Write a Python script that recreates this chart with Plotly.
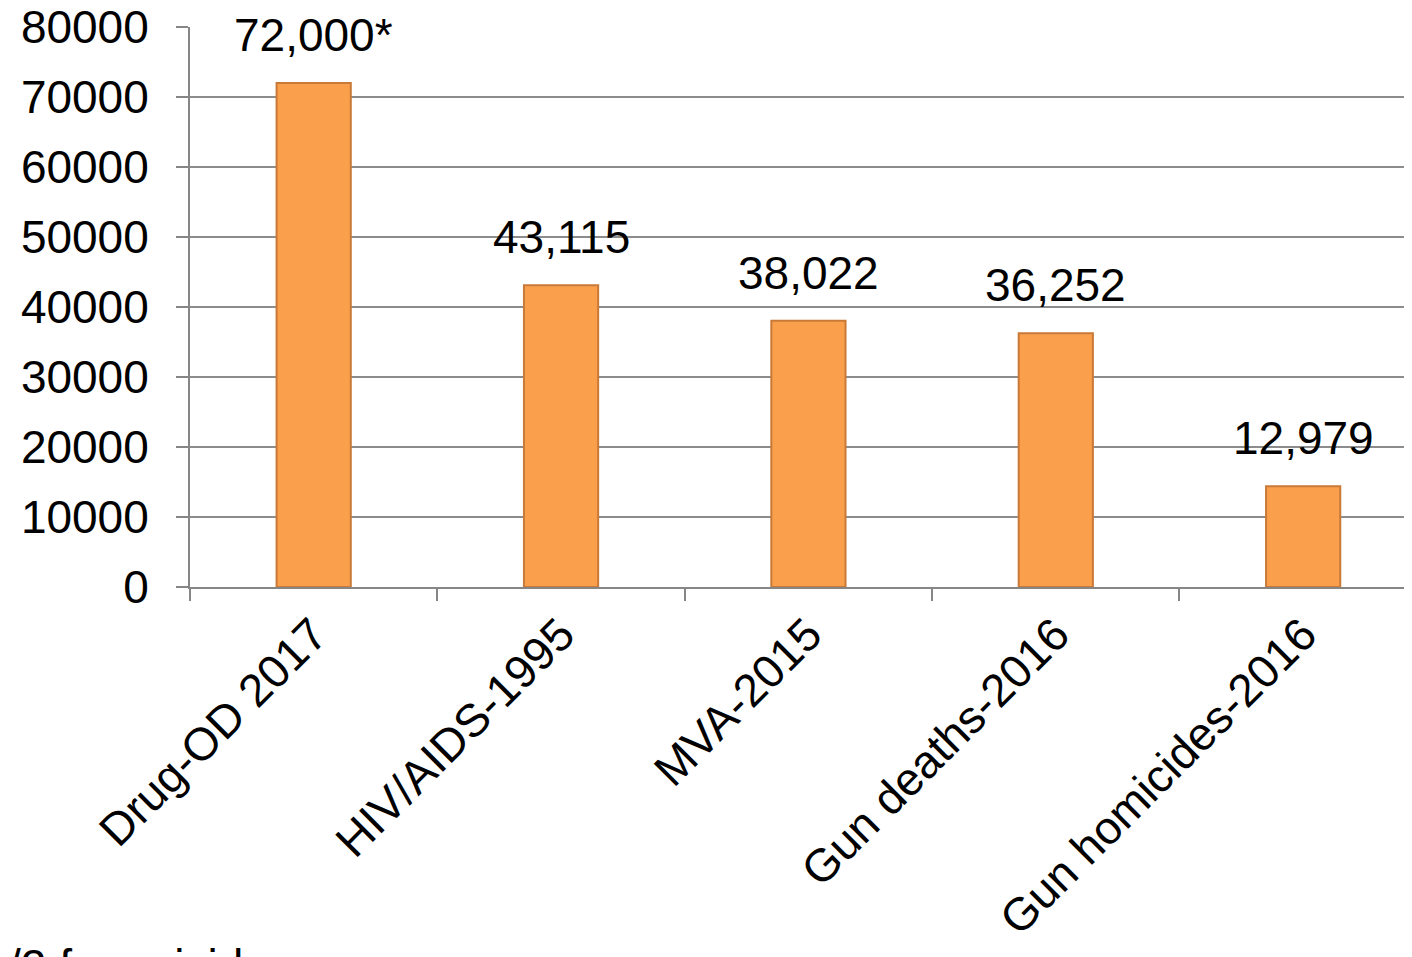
import plotly.graph_objects as go

categories = ["Drug-OD 2017", "HIV/AIDS-1995", "MVA-2015", "Gun deaths-2016", "Gun homicides-2016"]
bar_values = [72000, 43115, 38022, 36252, 14400]
bar_labels = ["72,000*", "43,115", "38,022", "36,252", "12,979"]
y_ticks = [0, 10000, 20000, 30000, 40000, 50000, 60000, 70000, 80000]
footnote = "/2 for suicides"

OFF = 8  # page body margin
W, H = 1412 - OFF, 957 - OFF
L, T, B = 190 - OFF, 27 - OFF, 587 - OFF
font = dict(family="Liberation Sans, Arial", size=46, color="black")

fig = go.Figure()
fig.add_trace(go.Bar(
    x=categories, y=bar_values, width=0.30,
    marker=dict(color="#FA9F4C", line=dict(color="#C97A38", width=2)),
))
annotations = []
for c, v, lab in zip(categories, bar_values, bar_labels):
    annotations.append(dict(x=c, y=v, text=lab, xref="x", yref="y", showarrow=False,
                            xanchor="center", yanchor="bottom", yshift=20, font=font))
annotations.append(dict(text=footnote, xref="paper", yref="paper",
                        x=-(L + 2) / (W - L), y=-(938 - OFF - B) / (B - T),
                        xanchor="left", yanchor="top", showarrow=False, font=font))

fig.update_layout(
    width=W, height=H, showlegend=False,
    paper_bgcolor="white", plot_bgcolor="white",
    margin=dict(l=L, r=0, t=T, b=H - B, autoexpand=False),
    font=font,
    xaxis=dict(range=[-0.5, 4.44], showline=True, linecolor="#868686", linewidth=2,
               ticks="outside", ticklen=12, tickcolor="#868686", tickwidth=2,
               tickson="boundaries", tickangle=-45, tickfont=font, showgrid=False),
    yaxis=dict(range=[0, 80000], tickvals=y_ticks, ticktext=[str(v) for v in y_ticks],
               showline=True, linecolor="#868686", linewidth=2,
               ticks="outside", ticklen=12, tickcolor="#868686", tickwidth=2,
               ticklabelstandoff=18, ticklabeloverflow="allow",
               showgrid=True, gridcolor="#8C8C8C", gridwidth=1.5,
               zeroline=False, tickfont=font),
    annotations=annotations,
)
fig.write_html("out.html")
